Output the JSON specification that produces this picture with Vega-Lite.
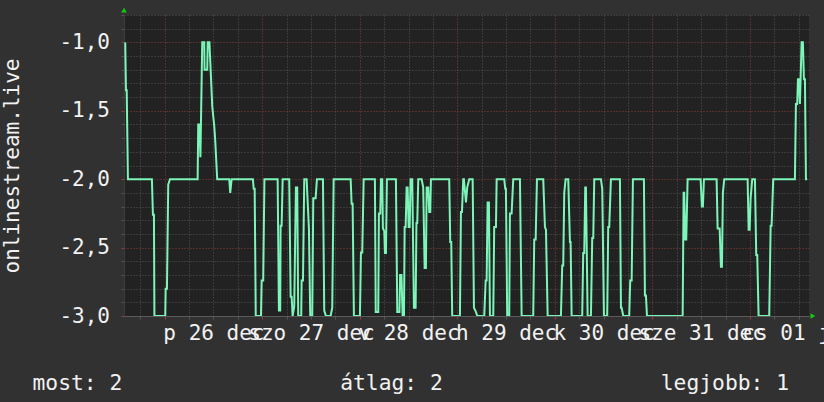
{
  "$schema": "https://vega.github.io/schema/vega-lite/v6.json",
  "width": 685,
  "height": 301,
  "autosize": {"type": "none"},
  "padding": {"left": 124, "top": 15, "right": 15, "bottom": 86},
  "background": "#313131",
  "config": {
    "view": {"fill": "#222222", "stroke": null},
    "font": "DejaVu Sans Mono"
  },
  "resolve": {"axis": {"x": "independent", "y": "independent"}},
  "title": {
    "text": "most: 2\u00a0\u00a0\u00a0\u00a0\u00a0\u00a0\u00a0\u00a0\u00a0\u00a0\u00a0\u00a0\u00a0\u00a0\u00a0\u00a0\u00a0átlag: 2\u00a0\u00a0\u00a0\u00a0\u00a0\u00a0\u00a0\u00a0\u00a0\u00a0\u00a0\u00a0\u00a0\u00a0\u00a0\u00a0\u00a0legjobb: 1",
    "orient": "bottom",
    "anchor": "start",
    "frame": "group",
    "dx": -91.5,
    "offset": 30,
    "font": "DejaVu Sans Mono",
    "fontSize": 21.3,
    "fontWeight": "normal",
    "color": "#f2f2f2"
  },
  "data": {
    "values": [
      {"t": "2025-12-25T14:18", "v": -1.0},
      {"t": "2025-12-25T14:29", "v": -1.35},
      {"t": "2025-12-25T14:40", "v": -1.35},
      {"t": "2025-12-25T14:58", "v": -2.0},
      {"t": "2025-12-25T20:52", "v": -2.0},
      {"t": "2025-12-25T21:07", "v": -2.26},
      {"t": "2025-12-25T21:22", "v": -2.26},
      {"t": "2025-12-25T21:29", "v": -3.0},
      {"t": "2025-12-26T00:09", "v": -3.0},
      {"t": "2025-12-26T00:15", "v": -2.8},
      {"t": "2025-12-26T00:34", "v": -2.8},
      {"t": "2025-12-26T00:53", "v": -2.04},
      {"t": "2025-12-26T01:18", "v": -2.0},
      {"t": "2025-12-26T08:07", "v": -2.0},
      {"t": "2025-12-26T08:16", "v": -1.6},
      {"t": "2025-12-26T08:34", "v": -1.6},
      {"t": "2025-12-26T08:48", "v": -1.84},
      {"t": "2025-12-26T09:15", "v": -1.0},
      {"t": "2025-12-26T09:45", "v": -1.0},
      {"t": "2025-12-26T09:49", "v": -1.2},
      {"t": "2025-12-26T10:29", "v": -1.2},
      {"t": "2025-12-26T10:36", "v": -1.0},
      {"t": "2025-12-26T11:01", "v": -1.0},
      {"t": "2025-12-26T11:43", "v": -1.47},
      {"t": "2025-12-26T12:12", "v": -1.61},
      {"t": "2025-12-26T12:27", "v": -1.72},
      {"t": "2025-12-26T12:56", "v": -2.0},
      {"t": "2025-12-26T15:54", "v": -2.0},
      {"t": "2025-12-26T16:08", "v": -2.1},
      {"t": "2025-12-26T16:29", "v": -2.0},
      {"t": "2025-12-26T21:43", "v": -2.0},
      {"t": "2025-12-26T21:54", "v": -2.07},
      {"t": "2025-12-26T22:09", "v": -2.07},
      {"t": "2025-12-26T22:25", "v": -3.0},
      {"t": "2025-12-26T23:42", "v": -3.0},
      {"t": "2025-12-26T23:52", "v": -2.74},
      {"t": "2025-12-27T00:15", "v": -2.74},
      {"t": "2025-12-27T00:33", "v": -2.0},
      {"t": "2025-12-27T03:48", "v": -2.0},
      {"t": "2025-12-27T04:07", "v": -2.96},
      {"t": "2025-12-27T04:26", "v": -2.96},
      {"t": "2025-12-27T04:32", "v": -2.34},
      {"t": "2025-12-27T04:47", "v": -2.34},
      {"t": "2025-12-27T05:02", "v": -2.0},
      {"t": "2025-12-27T06:39", "v": -2.0},
      {"t": "2025-12-27T07:00", "v": -2.86},
      {"t": "2025-12-27T07:15", "v": -2.86},
      {"t": "2025-12-27T07:29", "v": -3.0},
      {"t": "2025-12-27T07:53", "v": -2.93},
      {"t": "2025-12-27T08:18", "v": -2.06},
      {"t": "2025-12-27T08:37", "v": -2.06},
      {"t": "2025-12-27T08:52", "v": -3.0},
      {"t": "2025-12-27T09:36", "v": -3.0},
      {"t": "2025-12-27T09:42", "v": -2.74},
      {"t": "2025-12-27T10:02", "v": -2.74},
      {"t": "2025-12-27T10:21", "v": -2.0},
      {"t": "2025-12-27T10:56", "v": -2.0},
      {"t": "2025-12-27T11:05", "v": -2.1},
      {"t": "2025-12-27T11:30", "v": -2.36},
      {"t": "2025-12-27T11:49", "v": -3.0},
      {"t": "2025-12-27T12:19", "v": -3.0},
      {"t": "2025-12-27T12:34", "v": -2.14},
      {"t": "2025-12-27T13:09", "v": -2.14},
      {"t": "2025-12-27T13:28", "v": -2.0},
      {"t": "2025-12-27T14:57", "v": -2.0},
      {"t": "2025-12-27T15:16", "v": -2.96},
      {"t": "2025-12-27T15:41", "v": -3.0},
      {"t": "2025-12-27T16:50", "v": -3.0},
      {"t": "2025-12-27T17:14", "v": -2.94},
      {"t": "2025-12-27T17:35", "v": -2.0},
      {"t": "2025-12-27T21:46", "v": -2.0},
      {"t": "2025-12-27T22:00", "v": -2.18},
      {"t": "2025-12-27T22:15", "v": -2.18},
      {"t": "2025-12-27T22:34", "v": -3.0},
      {"t": "2025-12-28T00:03", "v": -3.0},
      {"t": "2025-12-28T00:18", "v": -2.535},
      {"t": "2025-12-28T00:37", "v": -2.535},
      {"t": "2025-12-28T00:58", "v": -2.0},
      {"t": "2025-12-28T03:44", "v": -2.0},
      {"t": "2025-12-28T03:56", "v": -2.97},
      {"t": "2025-12-28T04:33", "v": -2.97},
      {"t": "2025-12-28T04:43", "v": -2.25},
      {"t": "2025-12-28T05:03", "v": -2.25},
      {"t": "2025-12-28T05:13", "v": -2.0},
      {"t": "2025-12-28T05:32", "v": -2.0},
      {"t": "2025-12-28T05:42", "v": -2.36},
      {"t": "2025-12-28T06:02", "v": -2.38},
      {"t": "2025-12-28T06:12", "v": -2.54},
      {"t": "2025-12-28T06:27", "v": -2.54},
      {"t": "2025-12-28T06:41", "v": -2.0},
      {"t": "2025-12-28T08:54", "v": -2.0},
      {"t": "2025-12-28T09:14", "v": -2.97},
      {"t": "2025-12-28T09:46", "v": -2.97},
      {"t": "2025-12-28T09:56", "v": -2.7},
      {"t": "2025-12-28T10:16", "v": -2.7},
      {"t": "2025-12-28T10:33", "v": -3.0},
      {"t": "2025-12-28T10:53", "v": -3.0},
      {"t": "2025-12-28T11:03", "v": -2.35},
      {"t": "2025-12-28T11:18", "v": -2.35},
      {"t": "2025-12-28T11:32", "v": -2.06},
      {"t": "2025-12-28T11:47", "v": -2.06},
      {"t": "2025-12-28T12:02", "v": -2.35},
      {"t": "2025-12-28T12:17", "v": -2.35},
      {"t": "2025-12-28T12:31", "v": -2.0},
      {"t": "2025-12-28T12:55", "v": -2.0},
      {"t": "2025-12-28T13:20", "v": -2.94},
      {"t": "2025-12-28T13:45", "v": -2.94},
      {"t": "2025-12-28T13:57", "v": -2.32},
      {"t": "2025-12-28T14:09", "v": -2.32},
      {"t": "2025-12-28T14:24", "v": -2.0},
      {"t": "2025-12-28T15:14", "v": -2.0},
      {"t": "2025-12-28T15:37", "v": -2.06},
      {"t": "2025-12-28T15:58", "v": -2.65},
      {"t": "2025-12-28T16:17", "v": -2.65},
      {"t": "2025-12-28T16:28", "v": -2.06},
      {"t": "2025-12-28T16:51", "v": -2.06},
      {"t": "2025-12-28T17:06", "v": -2.24},
      {"t": "2025-12-28T17:21", "v": -2.24},
      {"t": "2025-12-28T17:31", "v": -2.0},
      {"t": "2025-12-28T22:01", "v": -2.0},
      {"t": "2025-12-28T22:16", "v": -2.46},
      {"t": "2025-12-28T22:31", "v": -2.46},
      {"t": "2025-12-28T22:45", "v": -3.0},
      {"t": "2025-12-29T00:39", "v": -3.0},
      {"t": "2025-12-29T00:54", "v": -2.24},
      {"t": "2025-12-29T01:09", "v": -2.24},
      {"t": "2025-12-29T01:28", "v": -2.0},
      {"t": "2025-12-29T01:38", "v": -2.0},
      {"t": "2025-12-29T02:08", "v": -2.17},
      {"t": "2025-12-29T02:27", "v": -2.06},
      {"t": "2025-12-29T02:56", "v": -2.0},
      {"t": "2025-12-29T03:47", "v": -2.0},
      {"t": "2025-12-29T04:06", "v": -2.94},
      {"t": "2025-12-29T04:35", "v": -2.97},
      {"t": "2025-12-29T04:55", "v": -3.0},
      {"t": "2025-12-29T06:38", "v": -3.0},
      {"t": "2025-12-29T06:59", "v": -2.74},
      {"t": "2025-12-29T07:13", "v": -2.74},
      {"t": "2025-12-29T07:28", "v": -2.17},
      {"t": "2025-12-29T07:47", "v": -2.17},
      {"t": "2025-12-29T08:02", "v": -3.0},
      {"t": "2025-12-29T08:51", "v": -3.0},
      {"t": "2025-12-29T09:05", "v": -2.35},
      {"t": "2025-12-29T09:31", "v": -2.35},
      {"t": "2025-12-29T09:41", "v": -2.0},
      {"t": "2025-12-29T11:33", "v": -2.0},
      {"t": "2025-12-29T11:48", "v": -2.07},
      {"t": "2025-12-29T11:58", "v": -2.07},
      {"t": "2025-12-29T12:17", "v": -3.0},
      {"t": "2025-12-29T12:47", "v": -3.0},
      {"t": "2025-12-29T12:57", "v": -2.25},
      {"t": "2025-12-29T13:22", "v": -2.25},
      {"t": "2025-12-29T13:46", "v": -2.0},
      {"t": "2025-12-29T15:25", "v": -2.0},
      {"t": "2025-12-29T15:50", "v": -3.0},
      {"t": "2025-12-29T18:41", "v": -3.0},
      {"t": "2025-12-29T18:56", "v": -2.44},
      {"t": "2025-12-29T19:17", "v": -2.44},
      {"t": "2025-12-29T19:36", "v": -2.0},
      {"t": "2025-12-29T21:09", "v": -2.0},
      {"t": "2025-12-29T21:34", "v": -2.35},
      {"t": "2025-12-29T21:49", "v": -2.37},
      {"t": "2025-12-29T22:14", "v": -3.0},
      {"t": "2025-12-30T01:30", "v": -3.0},
      {"t": "2025-12-30T01:49", "v": -2.63},
      {"t": "2025-12-30T02:04", "v": -2.63},
      {"t": "2025-12-30T02:19", "v": -2.1},
      {"t": "2025-12-30T02:39", "v": -2.0},
      {"t": "2025-12-30T03:18", "v": -2.0},
      {"t": "2025-12-30T03:43", "v": -2.46},
      {"t": "2025-12-30T03:53", "v": -2.46},
      {"t": "2025-12-30T04:08", "v": -3.0},
      {"t": "2025-12-30T06:44", "v": -3.0},
      {"t": "2025-12-30T06:59", "v": -2.54},
      {"t": "2025-12-30T07:14", "v": -2.54},
      {"t": "2025-12-30T07:29", "v": -2.06},
      {"t": "2025-12-30T07:39", "v": -2.06},
      {"t": "2025-12-30T08:04", "v": -3.0},
      {"t": "2025-12-30T08:53", "v": -3.0},
      {"t": "2025-12-30T09:12", "v": -2.43},
      {"t": "2025-12-30T09:27", "v": -2.43},
      {"t": "2025-12-30T09:42", "v": -2.0},
      {"t": "2025-12-30T11:20", "v": -2.0},
      {"t": "2025-12-30T11:40", "v": -2.07},
      {"t": "2025-12-30T12:05", "v": -3.0},
      {"t": "2025-12-30T12:53", "v": -3.0},
      {"t": "2025-12-30T13:08", "v": -2.35},
      {"t": "2025-12-30T13:23", "v": -2.35},
      {"t": "2025-12-30T13:48", "v": -2.0},
      {"t": "2025-12-30T16:01", "v": -2.0},
      {"t": "2025-12-30T16:16", "v": -2.94},
      {"t": "2025-12-30T16:26", "v": -2.94},
      {"t": "2025-12-30T16:50", "v": -3.0},
      {"t": "2025-12-30T18:18", "v": -3.0},
      {"t": "2025-12-30T18:33", "v": -2.74},
      {"t": "2025-12-30T18:54", "v": -2.74},
      {"t": "2025-12-30T19:13", "v": -2.0},
      {"t": "2025-12-30T21:55", "v": -2.0},
      {"t": "2025-12-30T22:10", "v": -2.85},
      {"t": "2025-12-30T22:25", "v": -2.85},
      {"t": "2025-12-30T22:40", "v": -3.0},
      {"t": "2025-12-31T07:27", "v": -3.0},
      {"t": "2025-12-31T07:41", "v": -2.1},
      {"t": "2025-12-31T07:50", "v": -2.1},
      {"t": "2025-12-31T08:05", "v": -2.44},
      {"t": "2025-12-31T08:20", "v": -2.44},
      {"t": "2025-12-31T08:40", "v": -2.0},
      {"t": "2025-12-31T11:52", "v": -2.0},
      {"t": "2025-12-31T12:11", "v": -2.2},
      {"t": "2025-12-31T12:26", "v": -2.2},
      {"t": "2025-12-31T12:41", "v": -2.0},
      {"t": "2025-12-31T15:48", "v": -2.0},
      {"t": "2025-12-31T16:03", "v": -2.36},
      {"t": "2025-12-31T16:33", "v": -2.36},
      {"t": "2025-12-31T16:52", "v": -2.64},
      {"t": "2025-12-31T17:07", "v": -2.64},
      {"t": "2025-12-31T17:21", "v": -2.1},
      {"t": "2025-12-31T17:41", "v": -2.0},
      {"t": "2025-12-31T23:26", "v": -2.0},
      {"t": "2025-12-31T23:41", "v": -2.37},
      {"t": "2025-12-31T23:56", "v": -2.37},
      {"t": "2026-01-01T00:10", "v": -2.14},
      {"t": "2026-01-01T00:34", "v": -2.0},
      {"t": "2026-01-01T01:14", "v": -2.0},
      {"t": "2026-01-01T01:33", "v": -2.555},
      {"t": "2026-01-01T01:48", "v": -2.555},
      {"t": "2026-01-01T02:08", "v": -3.0},
      {"t": "2026-01-01T04:45", "v": -3.0},
      {"t": "2026-01-01T05:06", "v": -2.34},
      {"t": "2026-01-01T05:20", "v": -2.34},
      {"t": "2026-01-01T05:44", "v": -2.0},
      {"t": "2026-01-01T11:04", "v": -2.0},
      {"t": "2026-01-01T11:19", "v": -1.45},
      {"t": "2026-01-01T11:38", "v": -1.45},
      {"t": "2026-01-01T11:49", "v": -1.27},
      {"t": "2026-01-01T12:03", "v": -1.27},
      {"t": "2026-01-01T12:18", "v": -1.45},
      {"t": "2026-01-01T12:43", "v": -1.0},
      {"t": "2026-01-01T13:02", "v": -1.0},
      {"t": "2026-01-01T13:17", "v": -1.27},
      {"t": "2026-01-01T13:32", "v": -1.27},
      {"t": "2026-01-01T13:47", "v": -2.0},
      {"t": "2026-01-01T14:06", "v": -2.0}
    ]
  },
  "layer": [
    {
      "mark": {"type": "line", "color": "#7cf5b8", "strokeWidth": 2, "clip": true, "interpolate": "linear"},
      "encoding": {
        "x": {
          "field": "t",
          "type": "temporal",
          "scale": {
            "domain": [
              {"year": 2025, "month": 12, "date": 25, "hours": 14},
              {"year": 2026, "month": 1, "date": 1, "hours": 14, "minutes": 32}
            ]
          },
          "axis": {
            "title": null,
            "values": [
              {"year": 2025, "month": 12, "date": 25, "hours": 18},
              {"year": 2025, "month": 12, "date": 26, "hours": 0},
              {"year": 2025, "month": 12, "date": 26, "hours": 6},
              {"year": 2025, "month": 12, "date": 26, "hours": 12},
              {"year": 2025, "month": 12, "date": 26, "hours": 18},
              {"year": 2025, "month": 12, "date": 27, "hours": 0},
              {"year": 2025, "month": 12, "date": 27, "hours": 6},
              {"year": 2025, "month": 12, "date": 27, "hours": 12},
              {"year": 2025, "month": 12, "date": 27, "hours": 18},
              {"year": 2025, "month": 12, "date": 28, "hours": 0},
              {"year": 2025, "month": 12, "date": 28, "hours": 6},
              {"year": 2025, "month": 12, "date": 28, "hours": 12},
              {"year": 2025, "month": 12, "date": 28, "hours": 18},
              {"year": 2025, "month": 12, "date": 29, "hours": 0},
              {"year": 2025, "month": 12, "date": 29, "hours": 6},
              {"year": 2025, "month": 12, "date": 29, "hours": 12},
              {"year": 2025, "month": 12, "date": 29, "hours": 18},
              {"year": 2025, "month": 12, "date": 30, "hours": 0},
              {"year": 2025, "month": 12, "date": 30, "hours": 6},
              {"year": 2025, "month": 12, "date": 30, "hours": 12},
              {"year": 2025, "month": 12, "date": 30, "hours": 18},
              {"year": 2025, "month": 12, "date": 31, "hours": 0},
              {"year": 2025, "month": 12, "date": 31, "hours": 6},
              {"year": 2025, "month": 12, "date": 31, "hours": 12},
              {"year": 2025, "month": 12, "date": 31, "hours": 18},
              {"year": 2026, "month": 1, "date": 1, "hours": 0},
              {"year": 2026, "month": 1, "date": 1, "hours": 6},
              {"year": 2026, "month": 1, "date": 1, "hours": 12}
            ],
            "labelExpr": "hours(datum.value) == 12 ? ['v','h','k','sze','cs','p','szo'][day(datum.value)] + ' ' + timeFormat(datum.value, '%d') + ' ' + ['jan','febr','márc','ápr','máj','jún','júl','aug','szept','okt','nov','dec'][month(datum.value)] : ''",
            "labelOverlap": false,
            "labelFlush": false,
            "labelBound": false,
            "labelFont": "DejaVu Sans Mono",
            "labelFontSize": 21,
            "labelColor": "#f2f2f2",
            "labelAlign": "center",
            "labelBaseline": "alphabetic",
            "labelPadding": 20,
            "grid": true,
            "gridColor": {"condition": {"test": "hours(datum.value) == 0", "value": "#8c3c3c"}, "value": "#555555"},
            "gridDash": [1, 2],
            "gridWidth": 1,
            "tickColor": {"condition": {"test": "hours(datum.value) == 0", "value": "#9c3c3c"}, "value": "#555555"},
            "tickSize": 3,
            "domainColor": "#5a5a5a",
            "domainWidth": 1
          }
        },
        "y": {
          "field": "v",
          "type": "quantitative",
          "scale": {"domain": [-3, -0.8], "nice": false, "zero": false},
          "axis": {
            "title": "onlinestream.live",
            "titleFont": "DejaVu Sans Mono",
            "titleFontSize": 21,
            "titleFontWeight": "normal",
            "titleColor": "#f2f2f2",
            "titleAngle": 270,
            "titleAlign": "center",
            "titleBaseline": "alphabetic",
            "titleX": -105.5,
            "titleY": 150.5,
            "values": [-3, -2.9, -2.8, -2.7, -2.6, -2.5, -2.4, -2.3, -2.2, -2.1, -2, -1.9, -1.8, -1.7, -1.6, -1.5, -1.4, -1.3, -1.2, -1.1, -1, -0.9, -0.8],
            "labelExpr": "abs(datum.value*2 - round(datum.value*2)) < 0.001 ? '-' + replace(format(abs(datum.value), '.1f'), '.', ',') : ''",
            "labelOverlap": false,
            "labelFlush": false,
            "labelFont": "DejaVu Sans Mono",
            "labelFontSize": 21,
            "labelColor": "#f2f2f2",
            "labelAlign": "right",
            "labelBaseline": "middle",
            "labelPadding": 11.5,
            "grid": true,
            "gridColor": {"condition": {"test": "abs(datum.value*2 - round(datum.value*2)) < 0.001", "value": "#8c3c3c"}, "value": "#555555"},
            "gridDash": [1, 2],
            "gridWidth": 1,
            "tickColor": {"condition": {"test": "abs(datum.value*2 - round(datum.value*2)) < 0.001", "value": "#9c3c3c"}, "value": "#555555"},
            "tickSize": 3,
            "domainColor": "#3c3c3c",
            "domainWidth": 1
          }
        }
      }
    },
    {
      "data": {"values": [{}]},
      "mark": {"type": "point", "shape": "triangle-up", "filled": true, "color": "#11cc11", "size": 30, "opacity": 1},
      "encoding": {
        "x": {"datum": {"year": 2025, "month": 12, "date": 25, "hours": 14}, "type": "temporal", "axis": null},
        "y": {"datum": -0.765, "type": "quantitative", "axis": null}
      }
    },
    {
      "data": {"values": [{}]},
      "mark": {"type": "point", "shape": "triangle-right", "filled": true, "color": "#11cc11", "size": 30, "opacity": 1},
      "encoding": {
        "x": {"datum": {"year": 2026, "month": 1, "date": 1, "hours": 15, "minutes": 30}, "type": "temporal", "axis": null},
        "y": {"datum": -3.0, "type": "quantitative", "axis": null}
      }
    }
  ]
}
